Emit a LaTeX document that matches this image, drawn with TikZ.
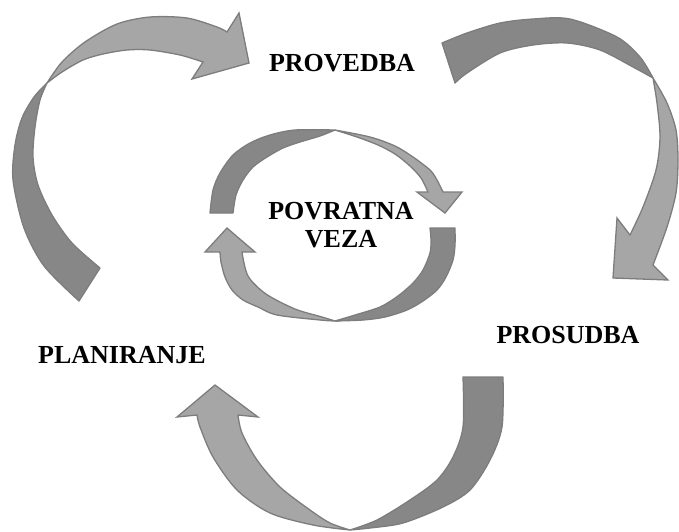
\documentclass[tikz,border=0pt]{standalone}
\usepackage{fontspec}
\setmainfont{Liberation Serif}
\definecolor{arrowdark}{HTML}{878787}
\definecolor{arrowlight}{HTML}{A6A6A6}
\definecolor{arrowline}{HTML}{7D7D7D}
\tikzset{
  darkpart/.style={fill=arrowdark, draw=arrowline, line width=1.3pt, line join=round},
  lightpart/.style={fill=arrowlight, draw=arrowline, line width=1.3pt, line join=miter},
  lbl/.style={font=\fontsize{26}{28}\selectfont\bfseries, inner sep=0pt, text=black},
}
\begin{document}
\begin{tikzpicture}[x=1pt,y=-1pt]
\useasboundingbox (0,0) rectangle (679,531);

% ---- left big arrow: PLANIRANJE -> PROVEDBA
\path[darkpart] plot[smooth] coordinates {(79,301) (44,266) (24,228) (13,180) (15,145) (22,118) (34,97) (47,83)}
  -- plot[smooth] coordinates {(47,83) (40,100) (35,127) (33,157) (38,185) (52,215) (72,243) (100,268)} -- cycle;
\path[lightpart] plot[smooth] coordinates {(47,83) (62,62) (85,42) (117,24) (150,17) (187,18) (217,27) (227,32)}
  -- (239,13) -- (249,63) -- (192,79) -- (203,62)
  -- plot[smooth] coordinates {(203,62) (180,55) (150,50) (127,50) (103,54) (83,60) (62,72) (47,83)} -- cycle;

% ---- top right big arrow: PROVEDBA -> PROSUDBA
\path[darkpart] plot[smooth] coordinates {(442,43) (467,33) (500,23) (533,19) (570,19) (617,37) (640,57) (653,78)}
  -- plot[smooth] coordinates {(653,78) (633,67) (600,50) (567,43) (533,45) (500,53) (467,73) (455,83)} -- cycle;
\path[lightpart] plot[smooth] coordinates {(653,78) (667,103) (676,130) (678,160) (676,193) (667,227) (653,265)}
  -- (668,280) -- (613,278) -- (617,218) -- (630,235)
  -- plot[smooth] coordinates {(630,235) (643,207) (656,170) (660,137) (657,103) (653,78)} -- cycle;

% ---- bottom big arrow: PROSUDBA -> PLANIRANJE
\path[darkpart] plot[smooth] coordinates {(503,377) (502,427) (490,460) (470,490) (443,507) (403,523) (370,528) (350,530)}
  -- plot[smooth] coordinates {(350,530) (377,520) (410,500) (437,480) (453,457) (463,427) (463,377)} -- cycle;
\path[lightpart] plot[smooth] coordinates {(350,530) (313,525) (270,513) (237,490) (213,457) (200,427) (197,415)}
  -- (177,417) -- (215,385) -- (258,417) -- (238,415)
  -- plot[smooth] coordinates {(238,415) (242,433) (257,460) (280,487) (310,510) (330,523) (350,530)} -- cycle;

% ---- centre upper arrow
\path[darkpart] plot[smooth] coordinates {(210,213) (213,190) (220,173) (233,155) (250,143) (270,135) (295,130) (335,130)}
  -- plot[smooth] coordinates {(335,130) (320,136) (300,142) (283,148) (267,157) (253,167) (243,180) (236,195) (233,213)} -- cycle;
\path[lightpart] plot[smooth] coordinates {(335,130) (370,137) (395,146) (413,157) (430,170) (437,180) (443,192)}
  -- (462,192) -- (445,213) -- (417,192) -- (428,192)
  -- plot[smooth] coordinates {(428,192) (421,178) (410,166) (395,154) (378,145) (357,137) (335,130)} -- cycle;

% ---- centre lower arrow
\path[darkpart] plot[smooth] coordinates {(455,228) (455,245) (453,260) (446,277) (437,290) (423,301) (407,310) (385,317) (363,320) (335,321)}
  -- plot[smooth] coordinates {(335,321) (355,315) (380,307) (398,296) (413,283) (423,270) (430,253) (431,240) (430,228)} -- cycle;
\path[lightpart] plot[smooth] coordinates {(335,321) (320,320) (277,315) (258,307) (243,300) (232,290) (225,277) (221,262) (220,252)}
  -- (205,252) -- (227,228) -- (255,252) -- (242,252)
  -- plot[smooth] coordinates {(242,252) (248,276) (266,294) (295,309) (322,317) (335,321)} -- cycle;

% ---- labels
\node[lbl, anchor=base] (provedba) at (342,71) {PROVEDBA};
\node[lbl, anchor=base] (planiranje) at (122,363) {PLANIRANJE};
\node[lbl, anchor=base] (prosudba) at (568,343) {PROSUDBA};
\node[lbl, anchor=north, align=center] (povratna) at (341,202) {POVRATNA\\VEZA};
\end{tikzpicture}
\end{document}
